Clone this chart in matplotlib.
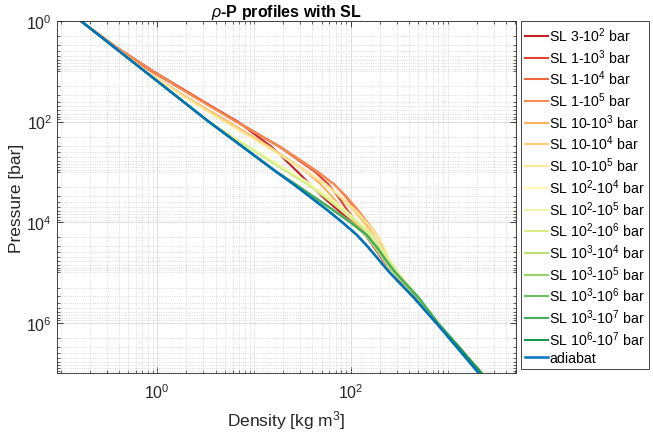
import numpy as np
import matplotlib
matplotlib.use('Agg')
import matplotlib.pyplot as plt
from matplotlib.ticker import LogLocator, NullFormatter

plt.rcParams['font.family'] = ['Liberation Sans', 'DejaVu Sans']
plt.rcParams['mathtext.fontset'] = 'custom'
plt.rcParams['mathtext.rm'] = 'Liberation Sans'
plt.rcParams['mathtext.it'] = 'Liberation Sans:italic'
plt.rcParams['mathtext.bf'] = 'Liberation Sans:bold'

# pressure levels [bar]
pressure = [1, 3.16, 10, 31.6, 100, 316, 1e3, 1.78e3, 3.16e3, 5.62e3, 1e4, 1.78e4,
            3.16e4, 5.62e4, 1e5, 3.16e5, 1e6, 3.16e6, 1e7]

# log10 density [kg m^-3] read along each profile
logrho_adiabat = [-0.79, -0.46, -0.13, 0.20, 0.53, 0.88, 1.23, 1.41, 1.58, 1.75, 1.91, 2.06,
                  2.18, 2.29, 2.40, 2.65, 2.88, 3.10, 3.32]

sl_labels = ['SL 3-10$^2$ bar', 'SL 1-10$^3$ bar', 'SL 1-10$^4$ bar', 'SL 1-10$^5$ bar',
             'SL 10-10$^3$ bar', 'SL 10-10$^4$ bar', 'SL 10-10$^5$ bar',
             'SL 10$^2$-10$^4$ bar', 'SL 10$^2$-10$^5$ bar', 'SL 10$^2$-10$^6$ bar',
             'SL 10$^3$-10$^4$ bar', 'SL 10$^3$-10$^5$ bar', 'SL 10$^3$-10$^6$ bar',
             'SL 10$^3$-10$^7$ bar', 'SL 10$^6$-10$^7$ bar']

logrho_sl = [
    [-0.79, -0.46, -0.06, 0.38, 0.83, 1.18, 1.45, 1.58, 1.71, 1.86, 2.01, 2.15, 2.24, 2.33, 2.44, 2.68, 2.89, 3.12, 3.35],
    [-0.79, -0.44, -0.04, 0.39, 0.82, 1.26, 1.63, 1.77, 1.87, 1.96, 2.06, 2.17, 2.25, 2.34, 2.44, 2.69, 2.89, 3.12, 3.35],
    [-0.79, -0.44, -0.05, 0.38, 0.82, 1.27, 1.66, 1.83, 1.95, 2.05, 2.14, 2.23, 2.30, 2.37, 2.46, 2.69, 2.89, 3.12, 3.35],
    [-0.79, -0.44, -0.05, 0.37, 0.81, 1.26, 1.65, 1.83, 1.96, 2.07, 2.17, 2.27, 2.33, 2.39, 2.48, 2.69, 2.89, 3.12, 3.35],
    [-0.79, -0.46, -0.11, 0.29, 0.73, 1.16, 1.54, 1.69, 1.81, 1.92, 2.04, 2.16, 2.25, 2.34, 2.44, 2.69, 2.89, 3.12, 3.35],
    [-0.79, -0.46, -0.11, 0.28, 0.71, 1.15, 1.55, 1.74, 1.89, 2.02, 2.13, 2.23, 2.30, 2.37, 2.46, 2.69, 2.89, 3.12, 3.35],
    [-0.79, -0.46, -0.11, 0.27, 0.69, 1.13, 1.54, 1.74, 1.90, 2.04, 2.16, 2.27, 2.34, 2.40, 2.49, 2.70, 2.89, 3.12, 3.35],
    [-0.79, -0.46, -0.13, 0.20, 0.53, 0.95, 1.38, 1.59, 1.77, 1.93, 2.07, 2.19, 2.27, 2.35, 2.45, 2.69, 2.89, 3.12, 3.35],
    [-0.79, -0.46, -0.13, 0.20, 0.53, 0.94, 1.36, 1.57, 1.76, 1.93, 2.08, 2.22, 2.31, 2.39, 2.48, 2.70, 2.89, 3.12, 3.35],
    [-0.79, -0.46, -0.13, 0.20, 0.53, 0.93, 1.34, 1.55, 1.73, 1.90, 2.06, 2.21, 2.30, 2.39, 2.48, 2.70, 2.90, 3.12, 3.35],
    [-0.79, -0.46, -0.13, 0.20, 0.53, 0.88, 1.23, 1.43, 1.62, 1.81, 1.99, 2.15, 2.25, 2.34, 2.44, 2.69, 2.89, 3.12, 3.35],
    [-0.79, -0.46, -0.13, 0.20, 0.53, 0.88, 1.23, 1.43, 1.62, 1.81, 2.00, 2.16, 2.27, 2.36, 2.46, 2.69, 2.89, 3.12, 3.35],
    [-0.79, -0.46, -0.13, 0.20, 0.53, 0.88, 1.23, 1.43, 1.62, 1.81, 2.00, 2.17, 2.27, 2.36, 2.46, 2.70, 2.90, 3.12, 3.35],
    [-0.79, -0.46, -0.13, 0.20, 0.53, 0.88, 1.23, 1.43, 1.62, 1.81, 1.99, 2.16, 2.27, 2.36, 2.46, 2.70, 2.90, 3.13, 3.35],
    [-0.79, -0.46, -0.13, 0.20, 0.53, 0.88, 1.23, 1.41, 1.58, 1.75, 1.91, 2.06, 2.18, 2.29, 2.40, 2.65, 2.88, 3.12, 3.35],
]

colors = plt.cm.RdYlGn(np.linspace(0.07, 0.9, len(sl_labels)))

fig = plt.figure(figsize=(6.53, 4.39), dpi=100)
ax = fig.add_axes([0.0873, 0.148, 0.703, 0.802])

for i in range(len(sl_labels)):
    ax.plot(10 ** np.array(logrho_sl[i]), pressure, color=colors[i], lw=1.5, label=sl_labels[i])
ax.plot(10 ** np.array(logrho_adiabat), pressure, color='#0072BD', lw=1.8, label='adiabat')

ax.set_xscale('log')
ax.set_yscale('log')
ax.set_xlim(0.092, 5100)
ax.set_ylim(1e7, 1)
ax.set_xticks([1, 100])
ax.set_yticks([1, 1e2, 1e4, 1e6])
ax.xaxis.set_minor_locator(LogLocator(base=10, subs=np.arange(1, 10), numticks=100))
ax.yaxis.set_minor_locator(LogLocator(base=10, subs=np.arange(1, 10), numticks=100))
ax.xaxis.set_minor_formatter(NullFormatter())
ax.yaxis.set_minor_formatter(NullFormatter())

ax.grid(which='major', color='#dedede', lw=0.7, ls='-')
ax.grid(which='minor', color='#cfcfcf', lw=0.6, ls=':')
ax.set_axisbelow(True)
ax.tick_params(which='both', direction='in', top=True, right=True, colors='#262626',
               labelsize=11.5, labelcolor='#262626')
ax.tick_params(which='major', length=4, width=0.6)
ax.tick_params(which='minor', length=2, width=0.5)
ax.tick_params(axis='x', which='major', pad=7)
for s in ax.spines.values():
    s.set_color('#262626')
    s.set_linewidth(0.6)

ax.set_xlabel('Density [kg m$^3$]', fontsize=12.5, color='#262626', labelpad=5)
ax.set_ylabel('Pressure [bar]', fontsize=12.5, color='#262626', labelpad=2)
ax.set_title(r'$\rho$-P profiles with SL', fontsize=11.5, fontweight='bold', pad=3)

leg = ax.legend(loc='upper left', bbox_to_anchor=(1.01, 1.0), fontsize=10.2,
                frameon=True, fancybox=False, edgecolor='#262626', framealpha=1,
                handlelength=1.6, handletextpad=0.12, labelspacing=0.22,
                borderaxespad=0, borderpad=0.3)
leg.get_frame().set_linewidth(0.6)

fig.savefig('out.png', dpi=100)
